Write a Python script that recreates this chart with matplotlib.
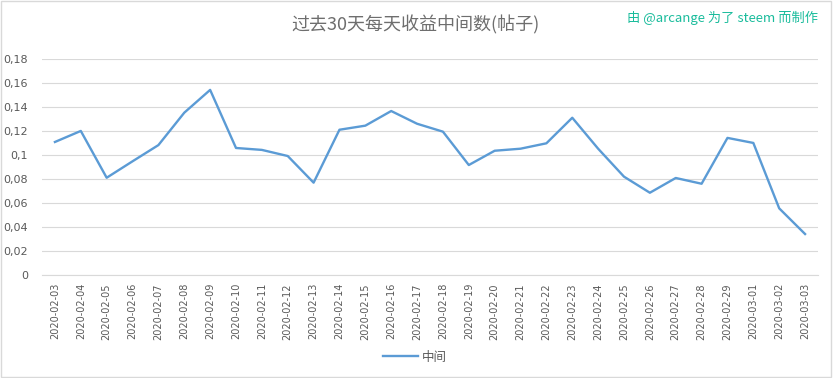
import matplotlib.pyplot as plt
from matplotlib.patches import Rectangle

plt.rcParams['font.family'] = ['Noto Sans CJK SC', 'DejaVu Sans']

dates = ['2020-02-03', '2020-02-04', '2020-02-05', '2020-02-06', '2020-02-07',
         '2020-02-08', '2020-02-09', '2020-02-10', '2020-02-11', '2020-02-12',
         '2020-02-13', '2020-02-14', '2020-02-15', '2020-02-16', '2020-02-17',
         '2020-02-18', '2020-02-19', '2020-02-20', '2020-02-21', '2020-02-22',
         '2020-02-23', '2020-02-24', '2020-02-25', '2020-02-26', '2020-02-27',
         '2020-02-28', '2020-02-29', '2020-03-01', '2020-03-02', '2020-03-03']
median = [0.1106, 0.1198, 0.0808, 0.0945, 0.1080, 0.1350, 0.1540, 0.1056,
          0.1040, 0.0989, 0.0767, 0.1208, 0.1242, 0.1364, 0.1258, 0.1192,
          0.0914, 0.1033, 0.1050, 0.1095, 0.1308, 0.1050, 0.0817, 0.0683,
          0.0806, 0.0758, 0.1140, 0.1098, 0.0553, 0.0339]
yticks = [0, 0.02, 0.04, 0.06, 0.08, 0.1, 0.12, 0.14, 0.16, 0.18]
ytick_labels = ['0', '0,02', '0,04', '0,06', '0,08', '0,1', '0,12', '0,14', '0,16', '0,18']

fig = plt.figure(figsize=(8.33, 3.78), dpi=100)
ax = fig.add_axes([42 / 833, 103.3 / 378, 776 / 833, 216 / 378])

x = list(range(len(dates)))
line, = ax.plot(x, median, color='#5b9bd5', lw=1.7, label='中间')

ax.set_xlim(-0.5, len(dates) - 0.5)
ax.set_ylim(0, 0.18)
ax.set_yticks(yticks)
ax.set_yticklabels(ytick_labels, fontsize=8, color='#595959', family='DejaVu Sans')
ax.set_xticks(x)
ax.set_xticklabels(dates, rotation=90, fontsize=7, color='#595959', family='DejaVu Sans')
ax.tick_params(length=0, pad=6)
ax.tick_params(axis='y', pad=10)
ax.grid(axis='y', color='#d9d9d9', lw=0.8)
ax.set_axisbelow(True)
for s in ['top', 'left', 'right']:
    ax.spines[s].set_visible(False)
ax.spines['bottom'].set_color('#d9d9d9')

fig.text(415 / 833, 1 - 25 / 378, '过去30天每天收益中间数(帖子)', ha='center', va='center',
         fontsize=13, color='#6e6e6e')
fig.text(818 / 833, 1 - 18 / 378, '由 @arcange 为了 steem 而制作', ha='right', va='center',
         fontsize=9.5, color='#1abc9c')

fig.legend(handles=[line], loc='center', bbox_to_anchor=(415 / 833, 1 - 357 / 378),
           frameon=False, fontsize=9, labelcolor='#595959', handlelength=2.8, handletextpad=0.3)

fig.patches.append(Rectangle((1 / 833, 1 / 378), 830 / 833, 376 / 378, transform=fig.transFigure,
                             fill=False, edgecolor='#d9d9d9', lw=1))

fig.savefig('out.png', dpi=100)
